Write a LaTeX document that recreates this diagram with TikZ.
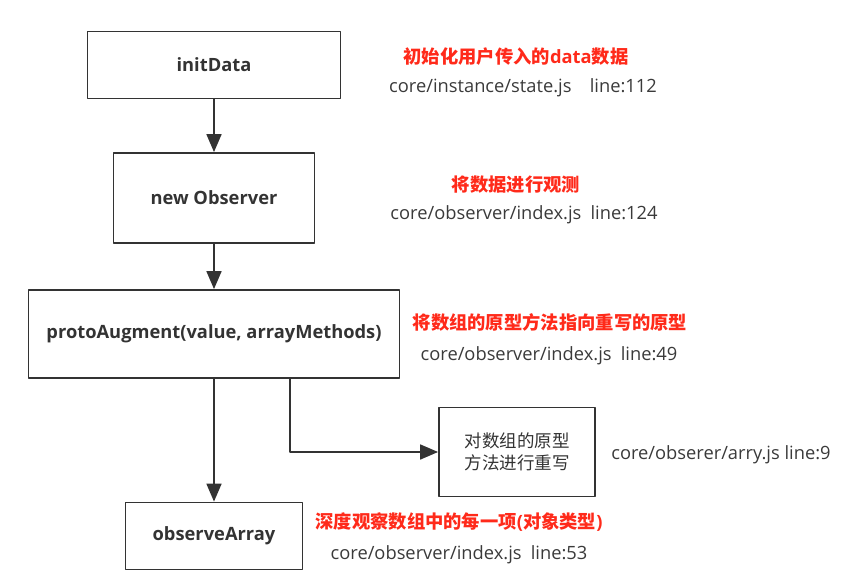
\documentclass[tikz,border=0pt]{standalone}
\usepackage{fontspec}
\setmainfont{Open Sans}
\newfontfamily\cjk{Noto Sans CJK SC}
\usetikzlibrary{arrows.meta}
\definecolor{boxline}{HTML}{333333}
\definecolor{notered}{HTML}{FF2A1A}
\definecolor{srcgray}{HTML}{3A3A3A}
\tikzset{
	stepbox/.style={draw=boxline, line width=1.8pt, inner sep=0pt, font=\fontsize{18.3}{22}\selectfont\bfseries, text=boxline},
	note/.style={text=notered, font=\fontsize{18.3}{22}\selectfont\bfseries},
	src/.style={text=srcgray, font=\fontsize{18.3}{22}\selectfont},
	link/.style={->, draw=boxline, line width=1.8pt},
}
\begin{document}
\begin{tikzpicture}[x=1pt, y=-1pt, line join=round, >={Triangle[length=18pt, width=15pt]}]
	\useasboundingbox (0,0) rectangle (862,580);
	% main column
	\node[stepbox, minimum width=253pt, minimum height=67pt] (init) at (214,65) {initData};
	\node[stepbox, minimum width=201pt, minimum height=90pt] (obs) at (214,198) {new Observer};
	\node[stepbox, minimum width=371pt, minimum height=88pt] (proto) at (214,334) {protoAugment(value, arrayMethods)};
	\node[stepbox, minimum width=177pt, minimum height=67pt] (arr) at (214,536) {observeArray};
	\node[stepbox, minimum width=156pt, minimum height=89pt, font=\fontsize{17.5}{22}\selectfont\cjk, align=center] (rew) at (517,452) {对数组的原型\\方法进行重写};
	\coordinate (fork) at ([xshift=76pt]proto.south);
	% connectors
	\draw[link] (init) -- (obs);
	\draw[link] (obs) -- (proto);
	\draw[link] (proto) -- (arr);
	\draw[link] (fork) |- (rew.west);
	% notes
	\node[note] (n1) at (516,57) {{\cjk 初始化用户传入的}data{\cjk 数据}};
	\node[src] (s1) at (523,88) {core/instance/state.js\hspace{1em}line:112};
	\node[note] (n2) at (516,185) {\cjk 将数据进行观测};
	\node[src] (s2) at (524,215) {core/observer/index.js\hspace{0.5em}line:124};
	\node[note] (n3) at (550,322) {\cjk 将数组的原型方法指向重写的原型};
	\node[src] (s3) at (549,356) {core/observer/index.js\hspace{0.5em}line:49};
	\node[src] (s4) at (721,455) {core/obserer/arry.js line:9};
	\node[note] (n4) at (459,522) {{\cjk 深度观察数组中的每一项}({\cjk 对象类型})};
	\node[src] (s5) at (459,555) {core/observer/index.js\hspace{0.5em}line:53};
\end{tikzpicture}
\end{document}
